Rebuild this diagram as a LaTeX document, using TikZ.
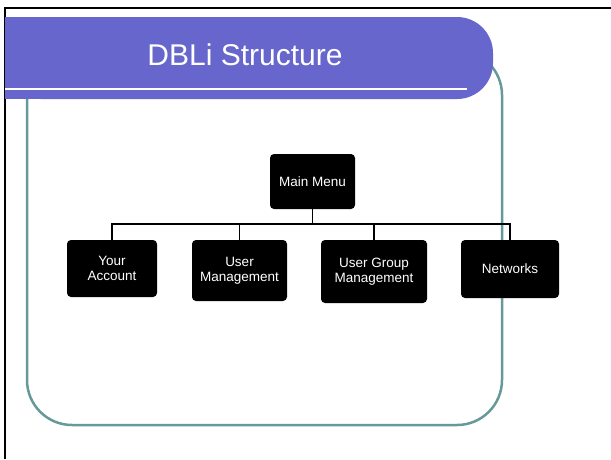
\documentclass[tikz,border=0pt]{standalone}
\usepackage{fontspec}
\setmainfont{Liberation Sans}
\definecolor{titlebar}{HTML}{6666CC}
\definecolor{frameteal}{HTML}{669999}
\tikzset{
  menubox/.style={fill=black, rounded corners=4pt, text=white, align=center, inner sep=0pt,
    font=\fontsize{13.5}{15}\selectfont},
  link/.style={draw=black, line width=1.4pt}
}
\begin{document}
\begin{tikzpicture}[x=1pt,y=-1pt]
\useasboundingbox (0,0) rectangle (611,459);
\fill[white] (0,0) rectangle (611,459);
% slide frame
\draw[line width=1.6pt, black] (5,459) -- (5,8) -- (611,8);
% teal rounded panel
\draw[frameteal, line width=2.5pt, rounded corners=45pt] (27,50) rectangle (502,425);
% title bar
\fill[titlebar, rounded corners=36pt] (5,17) rectangle (493,99);
\fill[titlebar] (5,17) rectangle (120,99);
\draw[white, line width=2.5pt] (5,89) -- (467,89);
\node[text=white, font=\fontsize{30}{36}\selectfont, anchor=center] (title) at (245,55) {DBLi Structure};
% boxes
\node[menubox, minimum width=85pt, minimum height=55pt] (mm) at (312.5,181.5) {Main Menu};
\node[menubox, minimum width=90pt, minimum height=57pt] (ya) at (112,268.5) {Your\\Account};
\node[menubox, minimum width=95pt, minimum height=61pt] (um) at (239.5,270.5) {User\\Management};
\node[menubox, minimum width=106pt, minimum height=63pt] (ug) at (374,271.5) {User Group\\Management};
\node[menubox, minimum width=98pt, minimum height=58pt] (nw) at (510,269) {Networks};
% connectors
\coordinate (bus) at (312.5,224);
\draw[link] (mm.south) -- (bus);
\draw[link] (ya.north) |- (bus);
\draw[link] (nw.north) |- (bus);
\draw[link] (um.north) -- (um.north |- bus);
\draw[link] (ug.north) -- (ug.north |- bus);
\end{tikzpicture}
\end{document}
